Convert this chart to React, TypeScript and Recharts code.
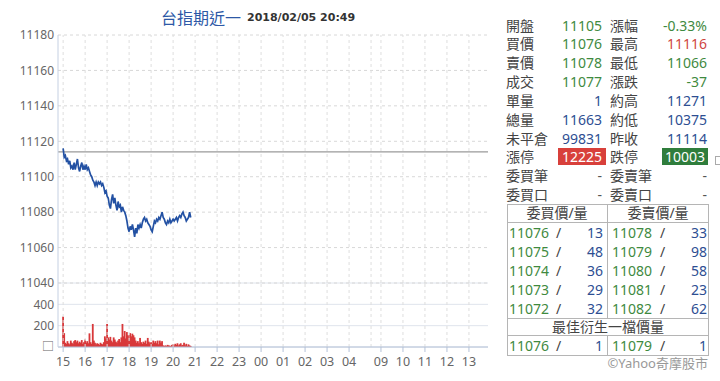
import React from 'react';
import { ComposedChart, Line, Bar, XAxis, YAxis, CartesianGrid, ReferenceLine } from 'recharts';

// price sampled every 3 minutes from 15:00
const priceValues = [
  11116, 11111, 11112, 11109, 11110, 11107, 11109, 11105, 11106, 11104,
  11108, 11104, 11107, 11110, 11105, 11103, 11106, 11108, 11104, 11106,
  11104, 11107, 11104, 11105, 11103, 11101, 11100, 11098, 11097, 11095,
  11097, 11095, 11097, 11096, 11097, 11095, 11096, 11094, 11091, 11092,
  11089, 11088, 11084, 11082, 11087, 11090, 11085, 11088, 11084, 11081,
  11086, 11083, 11084, 11080, 11083, 11081, 11080, 11078, 11075, 11071,
  11069, 11072, 11070, 11073, 11070, 11066, 11071, 11068, 11073, 11071,
  11073, 11071, 11074, 11076, 11077, 11075, 11076, 11074, 11073, 11072,
  11070, 11069, 11072, 11075, 11074, 11076, 11075, 11077, 11076, 11078,
  11080, 11077, 11076, 11074, 11073, 11075, 11074, 11076, 11074, 11075,
  11076, 11075, 11076, 11077, 11075, 11077, 11078, 11077, 11079, 11080,
  11078, 11077, 11075, 11076, 11077, 11080, 11077,
];

// volume sampled every 3 minutes from 15:00
const volumeValues = [
  285, 130, 40, 30, 55, 35, 25, 60, 40, 30,
  55, 65, 45, 60, 35, 50, 40, 65, 30, 45,
  70, 40, 55, 35, 128, 45, 30, 216, 60, 40,
  25, 35, 30, 20, 40, 30, 25, 45, 100, 80,
  216, 90, 70, 95, 60, 45, 90, 70, 50, 40,
  60, 75, 45, 90, 216, 100, 150, 80, 140, 110,
  70, 130, 100, 125, 110, 90, 60, 40, 55, 35,
  85, 45, 30, 50, 40, 60, 30, 85, 50, 35,
  45, 30, 60, 40, 55, 35, 60, 25, 60, 40,
  55, 15, 10, 15, 10, 20, 15, 12, 10, 20,
  25, 15, 30, 20, 35, 15, 25, 35, 15, 20,
  40, 15, 30, 10, 25, 15, 10,
];

const sampleMinutes = 3;
const hourTickMinutes = [0, 60, 120, 180, 240, 300, 360, 420, 480, 540, 600, 660, 720, 780, 867, 927, 987, 1047, 1107];
const hourTickLabels = ['15', '16', '17', '18', '19', '20', '21', '22', '23', '00', '01', '02', '03', '04', '09', '10', '11', '12', '13'];
const extraGridMinutes = [840];
const xDomain = [-14, 1159];
const priceTicks = [11040, 11060, 11080, 11100, 11120, 11140, 11160, 11180];
const volumeTicks = [0, 200, 400];
const prevClose = 11114;

const titleName = '台指期近一';
const titleTime = '2018/02/05 20:49';

const quoteLeftLabels = ['開盤', '買價', '賣價', '成交', '單量', '總量', '未平倉', '漲停', '委買筆', '委買口'];
const quoteLeftValues = ['11105', '11076', '11078', '11077', '1', '11663', '99831', '12225', '-', '-'];
const quoteLeftTones = ['green', 'green', 'green', 'green', 'blue', 'blue', 'blue', 'upLimit', 'plain', 'plain'];
const quoteRightLabels = ['漲幅', '最高', '最低', '漲跌', '約高', '約低', '昨收', '跌停', '委賣筆', '委賣口'];
const quoteRightValues = ['-0.33%', '11116', '11066', '-37', '11271', '10375', '11114', '10003', '-', '-'];
const quoteRightTones = ['green', 'red', 'green', 'green', 'blue', 'blue', 'blue', 'downLimit', 'plain', 'plain'];

const bidHeader = '委買價/量';
const askHeader = '委賣價/量';
const bidPrices = ['11076', '11075', '11074', '11073', '11072'];
const bidQtys = ['13', '48', '36', '29', '32'];
const askPrices = ['11078', '11079', '11080', '11081', '11082'];
const askQtys = ['33', '98', '58', '23', '62'];
const bestHeader = '最佳衍生一檔價量';
const bestBid = ['11076', '1'];
const bestAsk = ['11079', '1'];
const copyright = '©Yahoo奇摩股市';

const priceData = priceValues.map((p, i) => ({ t: i * sampleMinutes, price: p }));
const volumeData = volumeValues.map((v, i) => ({ t: i * sampleMinutes, vol: v }));
const gridMinutes = [...hourTickMinutes, ...extraGridMinutes];

const TONE: Record<string, React.CSSProperties> = {
  green: { color: '#3f8a3f' },
  blue: { color: '#2d4e92' },
  red: { color: '#d0453f' },
  plain: { color: '#555' },
};

const FONT = '"Noto Sans", "Noto Sans CJK TC", sans-serif';
const W = 720;

const VolBar = (p: any) => {
  if (!p || p.height == null || p.height <= 0) return <g />;
  const cx = p.x + p.width / 2;
  return <rect x={cx - 0.9} y={p.y} width={1.8} height={p.height} fill="#d8383a" />;
};

export default function App() {
  const rowTop = (i: number) => 15.5 + i * 18.85;
  const tblRow = (i: number) => 222.5 + i * 19.1;
  const abs = (s: React.CSSProperties): React.CSSProperties => ({ position: 'absolute', whiteSpace: 'nowrap', ...s });
  return (
    <div style={{ position: 'relative', width: W, height: 381, background: '#fff', fontFamily: FONT, overflow: 'hidden' }}>
      <style>{'body{margin:0}'}</style>
      {/* title */}
      <div style={abs({ left: 161, top: 5, fontSize: 16, lineHeight: '24px', color: '#2d58a6', fontFamily: '"Noto Sans CJK TC", sans-serif' })}>{titleName}</div>
      <div style={abs({ left: 247, top: 10, fontSize: 11, lineHeight: '16px', color: '#333', fontWeight: 'bold', fontFamily: '"DejaVu Sans", sans-serif' })}>{titleTime}</div>

      {/* volume pane */}
      <div style={abs({ left: 0, top: 270 })}>
        <ComposedChart width={490} height={111} data={volumeData} margin={{ top: 13, right: 2, bottom: 4, left: 0 }}>
          <CartesianGrid vertical={false} stroke="#dfe4ec" />
          {gridMinutes.map((m) => (
            <ReferenceLine key={m} x={m} stroke="#dedede" strokeDasharray="3 3" />
          ))}
          <XAxis
            dataKey="t"
            type="number"
            domain={xDomain}
            allowDataOverflow
            ticks={hourTickMinutes}
            interval={0}
            height={30}
            axisLine={{ stroke: '#b4c2d8' }}
            tickLine={{ stroke: '#b4c2d8' }}
            tickSize={5}
            tickMargin={5}
            tick={{ fill: '#666', fontSize: 12.5, fontFamily: FONT }}
            tickFormatter={(v: number) => hourTickLabels[hourTickMinutes.indexOf(v)] ?? ''}
          />
          <YAxis
            domain={[0, 600]}
            ticks={volumeTicks}
            width={58}
            axisLine={{ stroke: '#c5d0e2' }}
            tickLine={false}
            tickSize={0}
            tickMargin={4}
            interval={0}
            tick={{ fill: '#666', fontSize: 12, fontFamily: FONT }}
            tickFormatter={(v: number) => (v === 0 ? '□' : String(v))}
          />
          <Bar dataKey="vol" fill="#d8383a" barSize={2} shape={VolBar} isAnimationActive={false} />
        </ComposedChart>
      </div>

      {/* price pane */}
      <div style={abs({ left: 0, top: 0 })}>
        <ComposedChart width={490} height={293} data={priceData} margin={{ top: 35, right: 2, bottom: 10, left: 0 }}>
          <CartesianGrid vertical={false} stroke="#d8d8d8" strokeDasharray="3 3" />
          {gridMinutes.map((m) => (
            <ReferenceLine key={m} x={m} stroke="#dedede" strokeDasharray="3 3" />
          ))}
          <XAxis dataKey="t" type="number" domain={xDomain} hide allowDataOverflow />
          <YAxis
            domain={[priceTicks[0], priceTicks[priceTicks.length - 1]]}
            ticks={priceTicks}
            width={58}
            axisLine={{ stroke: '#c5d0e2' }}
            tickLine={false}
            tickSize={0}
            tickMargin={4}
            tick={{ fill: '#666', fontSize: 12, fontFamily: FONT }}
            interval={0}
          />
          <ReferenceLine y={prevClose} stroke="#9a9a9a" strokeWidth={1.2} />
          <Line dataKey="price" type="linear" stroke="#2351a3" strokeWidth={1.7} dot={false} isAnimationActive={false} />
        </ComposedChart>
      </div>

      {/* quote panel */}
      {quoteLeftLabels.map((lab, i) => {
        const top = rowTop(i);
        const tone = quoteLeftTones[i];
        return (
          <React.Fragment key={'l' + i}>
            <div style={abs({ left: 506, top, fontSize: 14, lineHeight: '19px', color: '#444' })}>{lab}</div>
            {tone === 'upLimit' ? (
              <div style={abs({ left: 558, top: top + 1, width: 48, height: 17, lineHeight: '17px', fontSize: 14, textAlign: 'center', color: '#fff', background: '#d8403b' })}>{quoteLeftValues[i]}</div>
            ) : (
              <div style={abs({ right: W - 602, top, fontSize: 14, lineHeight: '19px', ...TONE[tone] })}>{quoteLeftValues[i]}</div>
            )}
          </React.Fragment>
        );
      })}
      {quoteRightLabels.map((lab, i) => {
        const top = rowTop(i);
        const tone = quoteRightTones[i];
        return (
          <React.Fragment key={'r' + i}>
            <div style={abs({ left: 610, top, fontSize: 14, lineHeight: '19px', color: '#444' })}>{lab}</div>
            {tone === 'downLimit' ? (
              <div style={abs({ left: 662, top: top + 1, width: 46, height: 17, lineHeight: '17px', fontSize: 14, textAlign: 'center', color: '#fff', background: '#2f7d3c' })}>{quoteRightValues[i]}</div>
            ) : (
              <div style={abs({ right: W - 707, top, fontSize: 14, lineHeight: '19px', ...TONE[tone] })}>{quoteRightValues[i]}</div>
            )}
          </React.Fragment>
        );
      })}
      <div style={abs({ left: 715, top: 156, width: 8, height: 9, border: '1px solid #aaa', boxSizing: 'border-box' })} />

      {/* order book table */}
      <div style={abs({ left: 507, top: 204, width: 202, height: 152, border: '1px solid #b5b5b5', boxSizing: 'border-box' })} />
      <div style={abs({ left: 507, top: 222, width: 202, height: 1, background: '#b5b5b5' })} />
      <div style={abs({ left: 507, top: 318, width: 202, height: 1, background: '#b5b5b5' })} />
      <div style={abs({ left: 507, top: 335, width: 202, height: 1, background: '#b5b5b5' })} />
      <div style={abs({ left: 607, top: 204, width: 1, height: 114, background: '#b5b5b5' })} />
      <div style={abs({ left: 607, top: 335, width: 1, height: 20, background: '#b5b5b5' })} />
      <div style={abs({ left: 507, top: 204, width: 100, textAlign: 'center', fontSize: 14, lineHeight: '18px', color: '#444' })}>{bidHeader}</div>
      <div style={abs({ left: 608, top: 204, width: 100, textAlign: 'center', fontSize: 14, lineHeight: '18px', color: '#444' })}>{askHeader}</div>
      {bidPrices.map((p, i) => {
        const top = tblRow(i);
        return (
          <React.Fragment key={'b' + i}>
            <div style={abs({ left: 509, top, fontSize: 14, lineHeight: '19px', ...TONE.green })}>{p}</div>
            <div style={abs({ left: 556, top, fontSize: 14, lineHeight: '19px', color: '#444' })}>/</div>
            <div style={abs({ right: W - 603, top, fontSize: 14, lineHeight: '19px', ...TONE.blue })}>{bidQtys[i]}</div>
            <div style={abs({ left: 612, top, fontSize: 14, lineHeight: '19px', ...TONE.green })}>{askPrices[i]}</div>
            <div style={abs({ left: 660, top, fontSize: 14, lineHeight: '19px', color: '#444' })}>/</div>
            <div style={abs({ right: W - 707, top, fontSize: 14, lineHeight: '19px', ...TONE.blue })}>{askQtys[i]}</div>
          </React.Fragment>
        );
      })}
      <div style={abs({ left: 507, top: 317, width: 202, textAlign: 'center', fontSize: 14, lineHeight: '19px', color: '#444' })}>{bestHeader}</div>
      <div style={abs({ left: 509, top: 335.5, fontSize: 14, lineHeight: '19px', ...TONE.green })}>{bestBid[0]}</div>
      <div style={abs({ left: 556, top: 335.5, fontSize: 14, lineHeight: '19px', color: '#444' })}>/</div>
      <div style={abs({ right: W - 603, top: 335.5, fontSize: 14, lineHeight: '19px', ...TONE.blue })}>{bestBid[1]}</div>
      <div style={abs({ left: 612, top: 335.5, fontSize: 14, lineHeight: '19px', ...TONE.green })}>{bestAsk[0]}</div>
      <div style={abs({ left: 660, top: 335.5, fontSize: 14, lineHeight: '19px', color: '#444' })}>/</div>
      <div style={abs({ right: W - 707, top: 335.5, fontSize: 14, lineHeight: '19px', ...TONE.blue })}>{bestAsk[1]}</div>
      <div style={abs({ right: W - 708, top: 354, fontSize: 13, lineHeight: '19px', color: '#999' })}>{copyright}</div>
    </div>
  );
}
